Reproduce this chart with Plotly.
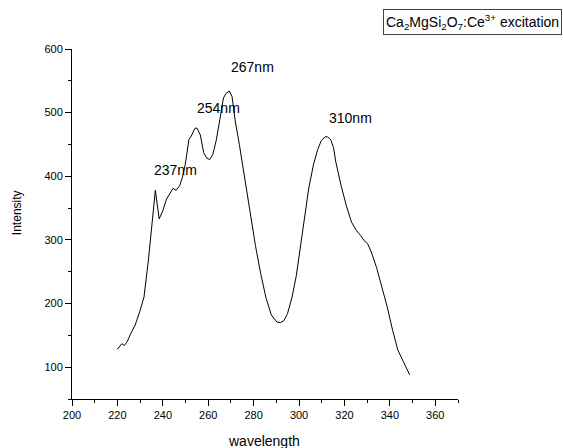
import plotly.graph_objects as go

wavelength = [219.9, 222.0, 223.0, 224.3, 225.9, 227.8, 229.8, 231.7, 233.7, 235.3,
              236.7, 238.4, 240.0, 241.6, 243.1, 244.5, 245.8, 247.4, 248.6, 249.9,
              251.5, 252.5, 254.1, 255.0, 256.5, 258.0, 259.3, 260.6, 262.0, 263.5,
              265.1, 266.7, 267.8, 269.3, 270.5, 271.8, 273.7, 276.1, 278.4, 280.8,
              283.1, 285.5, 287.8, 290.2, 291.8, 293.3, 294.9, 296.9, 298.8, 300.4,
              302.3, 304.3, 306.4, 308.2, 309.8, 311.4, 312.6, 314.0, 315.2, 316.1,
              318.4, 320.8, 323.1, 325.2, 327.1, 328.6, 330.2, 331.8, 334.1, 336.2,
              338.8, 341.2, 343.5, 345.9, 348.7]
intensity = [128, 137, 134, 140, 153, 166, 187, 210, 270, 330,
             378, 333, 346, 364, 372, 381, 378, 385, 398, 419,
             458, 463, 475, 476, 465, 437, 429, 426, 434, 456,
             489, 523, 530, 534, 525, 489, 450, 398, 341, 291,
             247, 208, 182, 171, 170, 173, 184, 210, 244, 283,
             335, 382, 419, 442, 456, 462, 462, 457, 445, 424,
             387, 354, 328, 315, 307, 299, 294, 281, 257, 231,
             195, 158, 127, 109, 88]

peak_labels = ["237nm", "254nm", "267nm", "310nm"]
peak_label_x = [245.8, 264.7, 279.7, 322.6]
peak_label_y = [410, 507, 571, 492]

legend_text = "Ca<sub>2</sub>MgSi<sub>2</sub>O<sub>7</sub>:Ce<sup>3+</sup> excitation"
x_title = "wavelength"
y_title = "Intensity"

FONT = "Liberation Sans, Arial, sans-serif"

fig = go.Figure()
fig.add_trace(go.Scatter(x=wavelength, y=intensity, mode="lines",
                         line=dict(color="black", width=1), showlegend=False))

annotations = []
for t, x, y in zip(peak_labels, peak_label_x, peak_label_y):
    annotations.append(dict(x=x, y=y, xref="x", yref="y", text=t, showarrow=False,
                            font=dict(family=FONT, size=14, color="black"),
                            xanchor="center", yanchor="middle"))
annotations.append(dict(x=1.269, y=1.114, xref="paper", yref="paper", text=legend_text,
                        showarrow=False, xanchor="right", yanchor="top",
                        font=dict(family=FONT, size=14, color="black"),
                        bordercolor="#444", borderwidth=1, borderpad=2, bgcolor="white"))
annotations.append(dict(x=-0.1407, y=0.533, xref="paper", yref="paper", text=y_title,
                        textangle=-90, showarrow=False, xanchor="center", yanchor="middle",
                        font=dict(family=FONT, size=12, color="black")))
annotations.append(dict(x=0.497, y=-0.121, xref="paper", yref="paper", text=x_title,
                        showarrow=False, xanchor="center", yanchor="middle",
                        font=dict(family=FONT, size=14, color="black")))

axis_common = dict(showgrid=False, zeroline=False, showline=True, linecolor="black",
                   linewidth=1, ticks="outside", ticklen=6, tickcolor="black",
                   tickfont=dict(family=FONT, size=11, color="black"))

fig.update_layout(
    width=563, height=448,
    margin=dict(l=72, r=105, t=49, b=48.7, autoexpand=False),
    paper_bgcolor="white", plot_bgcolor="white",
    xaxis=dict(range=[200, 370], dtick=20, tick0=200,
               minor=dict(dtick=10, ticks="outside", ticklen=3, tickcolor="black"),
               **axis_common),
    yaxis=dict(range=[50, 600], dtick=100, tick0=0,
               minor=dict(dtick=50, ticks="outside", ticklen=3, tickcolor="black"),
               **axis_common),
    annotations=annotations,
)

fig.write_html("out.html",
               config={"displayModeBar": False},
               post_script="document.body.style.margin='0';document.body.style.overflow='hidden';")
